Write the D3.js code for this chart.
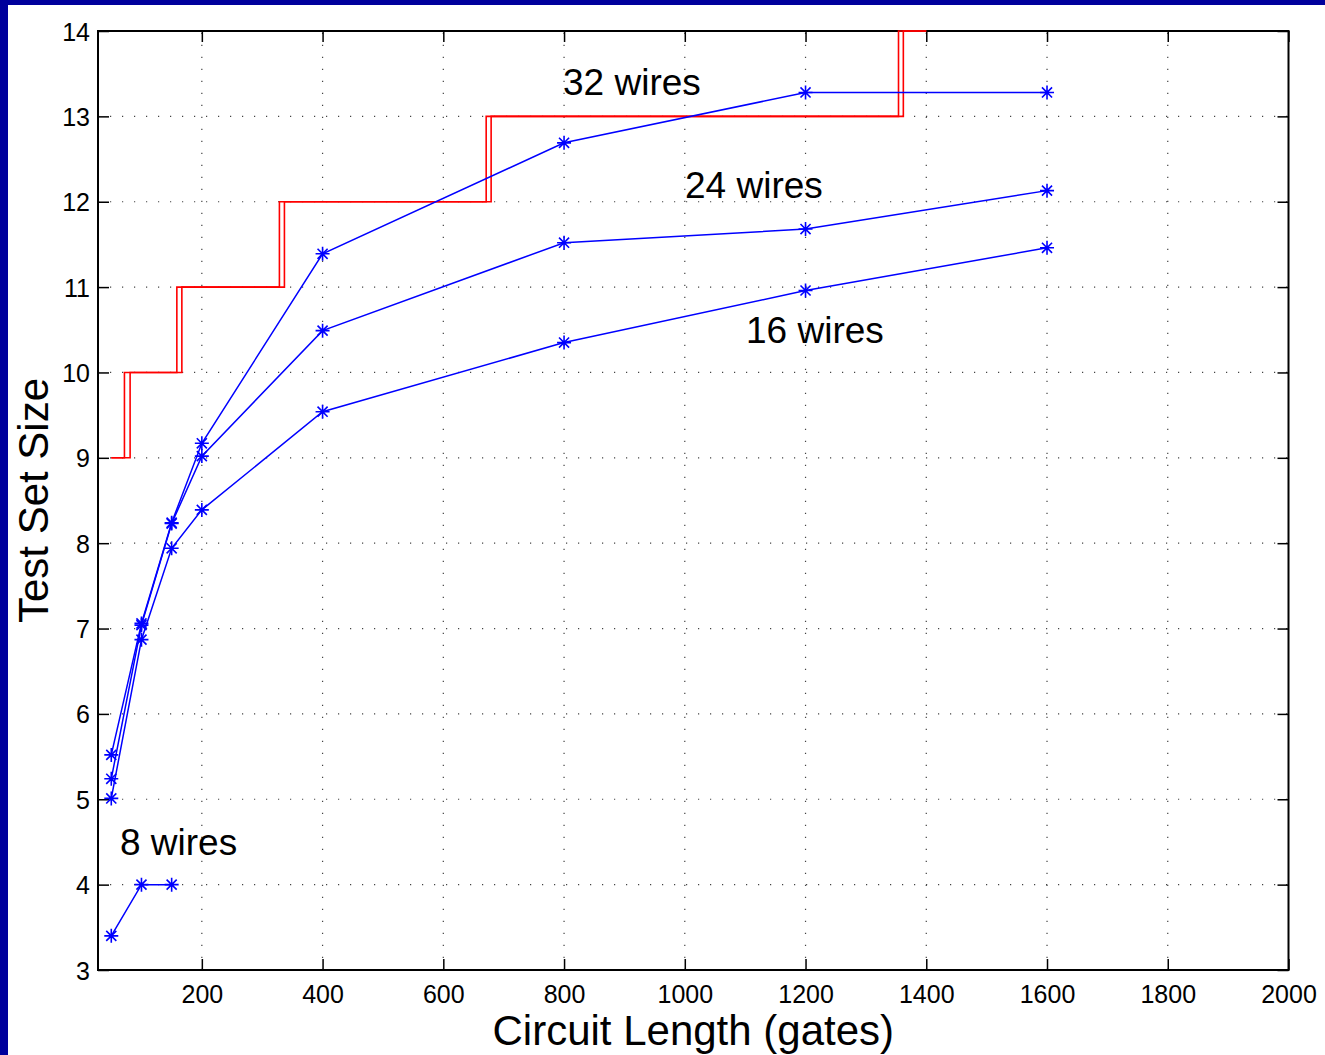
<!DOCTYPE html>
<html><head><meta charset="utf-8">
<script src="https://cdn.jsdelivr.net/npm/d3@7"></script>
<style>
html,body{margin:0;padding:0;background:#fff;}
svg{display:block;font-family:"Liberation Sans",Arial,Helvetica,sans-serif;}
</style></head>
<body>
<script>
// ---- data ----
const xTicks = [200,400,600,800,1000,1200,1400,1600,1800,2000];
const yTicks = [3,4,5,6,7,8,9,10,11,12,13,14];
const gates = [50,100,150,200,400,800,1200,1600];
const wires32 = [5.52,7.06,8.24,9.17,11.39,12.69,13.28,13.28];
const wires24 = [5.24,7.04,8.23,9.02,10.49,11.52,11.68,12.13];
const wires16 = [5.01,6.87,7.94,8.39,9.54,10.35,10.96,11.46];
const gates8 = [50,100,150];
const wires8 = [3.40,4.00,4.00];
const boundLevels = [9,10,11,12,13,14,14];
const boundA_x = [50,71.8,158.6,328.5,671,1354,1400];
const boundB_x = [50,81.2,166.9,336.8,679.2,1362,1400];
const labels = [
  {text:"32 wires", x:563, y:13.25},
  {text:"24 wires", x:685, y:12.04},
  {text:"16 wires", x:746, y:10.345},
  {text:"8 wires",  x:120, y:4.35}
];

const W=1325,H=1055;
const L=98,R=1288.5,T=31,B=970;
const svg=d3.select("body").append("svg").attr("width",W).attr("height",H);

// slide frame
svg.append("rect").attr("x",0).attr("y",0).attr("width",W).attr("height",5).attr("fill","#00009c");
svg.append("rect").attr("x",0).attr("y",0).attr("width",8).attr("height",H).attr("fill","#00009c");

const x=d3.scaleLinear().domain([28,2000]).range([L,R]);
const y=d3.scaleLinear().domain([3,14]).range([B,T]);

// grid
const g=svg.append("g");
g.selectAll("line.gx").data(xTicks.filter(d=>d<2000)).join("line")
  .attr("x1",d=>x(d)).attr("x2",d=>x(d)).attr("y1",B).attr("y2",T)
  .attr("stroke","#444").attr("stroke-width",1.2).attr("stroke-dasharray","1.2,10.8");
g.selectAll("line.gy").data(yTicks.filter(d=>d>3&&d<14)).join("line")
  .attr("y1",d=>y(d)).attr("y2",d=>y(d)).attr("x1",L).attr("x2",R)
  .attr("stroke","#444").attr("stroke-width",1.2).attr("stroke-dasharray","1.2,10.8");

// axes
const tickLen=11;
const ax=svg.append("g").attr("transform",`translate(0,${B})`)
  .call(d3.axisBottom(x).tickValues(xTicks).tickSize(-tickLen).tickPadding(15).tickFormat(d3.format("d")));
const ay=svg.append("g").attr("transform",`translate(${L},0)`)
  .call(d3.axisLeft(y).tickValues(yTicks).tickSize(-tickLen).tickPadding(8).tickFormat(d3.format("d")));
const axT=svg.append("g").attr("transform",`translate(0,${T})`)
  .call(d3.axisTop(x).tickValues(xTicks).tickSize(-tickLen).tickFormat(""));
const ayR=svg.append("g").attr("transform",`translate(${R},0)`)
  .call(d3.axisRight(y).tickValues(yTicks).tickSize(-tickLen).tickFormat(""));
[ax,ay,axT,ayR].forEach(a=>{
  a.select(".domain").remove();
  a.selectAll(".tick line").attr("stroke","#000").attr("stroke-width",1.5);
  a.selectAll(".tick text").attr("font-size",25).attr("fill","#000").attr("font-family","Liberation Sans, Arial, sans-serif");
});
ax.selectAll(".tick text").attr("dy","0.71em");
ay.selectAll(".tick text").attr("dy","0.36em");
svg.append("rect").attr("x",L).attr("y",T).attr("width",R-L).attr("height",B-T)
  .attr("fill","none").attr("stroke","#000").attr("stroke-width",2);

// bound staircases (red)
const stepLine=d3.line().x(d=>x(d[0])).y(d=>y(d[1])).curve(d3.curveStepAfter);
[boundA_x,boundB_x].forEach(xs=>{
  svg.append("path").datum(xs.map((v,i)=>[v,boundLevels[i]]))
    .attr("d",stepLine).attr("fill","none").attr("stroke","#ff0000").attr("stroke-width",1.6);
});

// blue series
const line=d3.line().x(d=>x(d[0])).y(d=>y(d[1]));
const series=[[gates,wires32],[gates,wires24],[gates,wires16],[gates8,wires8]];
const s=7;
const k=s*0.72;
const star=`M${-s},0L${s},0M0,${-s}L0,${s}M${-k},${-k}L${k},${k}M${-k},${k}L${k},${-k}`;
series.forEach(([xs,ys])=>{
  const pts=xs.map((v,i)=>[v,ys[i]]);
  svg.append("path").datum(pts).attr("d",line).attr("fill","none")
    .attr("stroke","#0000ff").attr("stroke-width",1.5);
  svg.append("g").selectAll("path").data(pts).join("path")
    .attr("transform",d=>`translate(${x(d[0])},${y(d[1])})`)
    .attr("d",star).attr("fill","none").attr("stroke","#0000ff").attr("stroke-width",1.6);
});

// labels
svg.append("g").selectAll("text").data(labels).join("text")
  .attr("x",d=>d.x).attr("y",d=>y(d.y)).attr("font-size",37).attr("fill","#000")
  .text(d=>d.text);

// axis titles
svg.append("text").attr("x",(L+R)/2).attr("y",1045).attr("text-anchor","middle")
  .attr("font-size",42).attr("fill","#000").text("Circuit Length (gates)");
svg.append("text").attr("transform",`translate(48,${(T+B)/2}) rotate(-90)`)
  .attr("text-anchor","middle").attr("font-size",42).attr("fill","#000").text("Test Set Size");
</script>
</body></html>
